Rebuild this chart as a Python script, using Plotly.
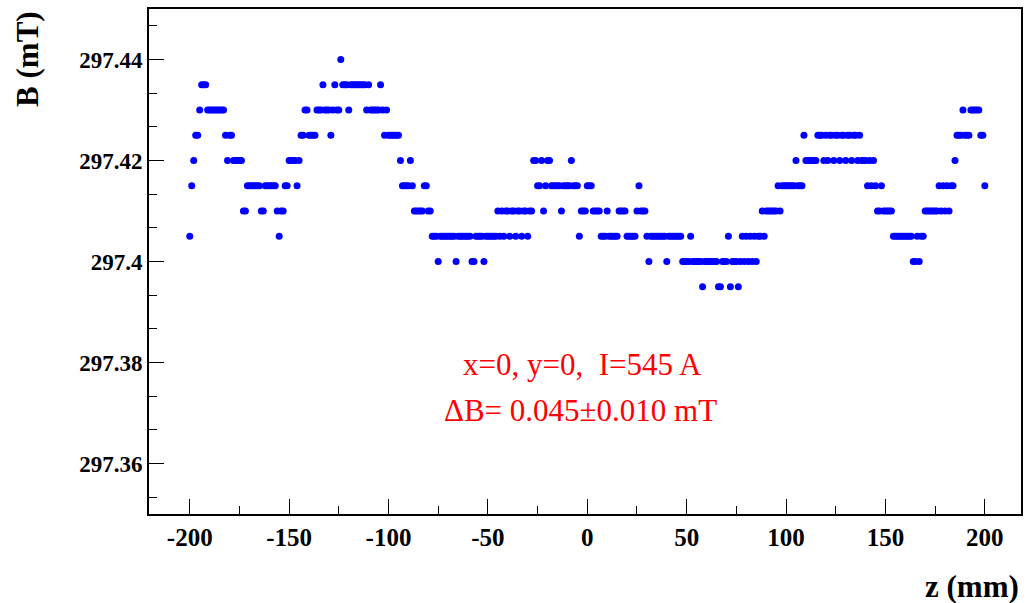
import plotly.graph_objects as go

# z positions (mm), 1 mm scan steps
z_mm = list(range(-200, 201))

B_mT = [
    297.405, 297.415, 297.420, 297.425, 297.425, 297.430, 297.435, 297.435, 297.435, 297.430,  # -200
    297.430, 297.430, 297.430, 297.430, 297.430, 297.430, 297.430, 297.430, 297.425, 297.420,  # -190
    297.425, 297.425, 297.420, 297.420, 297.420, 297.420, 297.420, 297.410, 297.410, 297.415,  # -180
    297.415, 297.415, 297.415, 297.415, 297.415, 297.415, 297.410, 297.410, 297.415, 297.415,  # -170
    297.415, 297.415, 297.415, 297.415, 297.410, 297.405, 297.410, 297.410, 297.415, 297.415,  # -160
    297.420, 297.420, 297.420, 297.420, 297.415, 297.420, 297.425, 297.425, 297.430, 297.430,  # -150
    297.425, 297.425, 297.425, 297.425, 297.430, 297.430, 297.430, 297.435, 297.430, 297.430,  # -140
    297.430, 297.425, 297.430, 297.435, 297.430, 297.430, 297.440, 297.435, 297.435, 297.435,  # -130
    297.430, 297.435, 297.435, 297.435, 297.435, 297.435, 297.435, 297.435, 297.435, 297.430,  # -120
    297.435, 297.430, 297.430, 297.430, 297.430, 297.430, 297.435, 297.430, 297.425, 297.430,  # -110
    297.425, 297.425, 297.425, 297.425, 297.425, 297.425, 297.420, 297.415, 297.415, 297.415,  # -100
    297.415, 297.420, 297.415, 297.410, 297.410, 297.410, 297.410, 297.410, 297.415, 297.415,  # -90
    297.410, 297.410, 297.405, 297.405, 297.405, 297.400, 297.405, 297.405, 297.405, 297.405,  # -80
    297.405, 297.405, 297.405, 297.405, 297.400, 297.405, 297.405, 297.405, 297.405, 297.405,  # -70
    297.405, 297.405, 297.400, 297.400, 297.405, 297.405, 297.405, 297.405, 297.400, 297.405,  # -60
    297.405, 297.405, 297.405, 297.405, 297.405, 297.410, 297.405, 297.410, 297.405, 297.410,  # -50
    297.410, 297.405, 297.410, 297.410, 297.405, 297.410, 297.410, 297.405, 297.410, 297.410,  # -40
    297.405, 297.410, 297.410, 297.420, 297.420, 297.415, 297.415, 297.420, 297.410, 297.415,  # -30
    297.420, 297.420, 297.415, 297.415, 297.415, 297.415, 297.415, 297.410, 297.415, 297.415,  # -20
    297.415, 297.415, 297.420, 297.415, 297.415, 297.415, 297.405, 297.410, 297.410, 297.410,  # -10
    297.415, 297.415, 297.415, 297.410, 297.410, 297.410, 297.410, 297.405, 297.405, 297.405,  # 0
    297.410, 297.405, 297.405, 297.405, 297.405, 297.405, 297.410, 297.410, 297.410, 297.410,  # 10
    297.405, 297.405, 297.405, 297.405, 297.405, 297.410, 297.415, 297.410, 297.410, 297.410,  # 20
    297.405, 297.400, 297.405, 297.405, 297.405, 297.405, 297.405, 297.405, 297.405, 297.405,  # 30
    297.400, 297.405, 297.405, 297.405, 297.405, 297.405, 297.405, 297.405, 297.400, 297.400,  # 40
    297.400, 297.400, 297.405, 297.400, 297.400, 297.400, 297.400, 297.400, 297.395, 297.400,  # 50
    297.400, 297.400, 297.400, 297.400, 297.400, 297.400, 297.395, 297.395, 297.400, 297.400,  # 60
    297.400, 297.405, 297.395, 297.400, 297.400, 297.400, 297.395, 297.400, 297.405, 297.400,  # 70
    297.405, 297.400, 297.405, 297.400, 297.405, 297.400, 297.405, 297.405, 297.410, 297.405,  # 80
    297.410, 297.410, 297.410, 297.410, 297.410, 297.410, 297.415, 297.410, 297.415, 297.415,  # 90
    297.415, 297.415, 297.415, 297.415, 297.415, 297.420, 297.415, 297.415, 297.415, 297.425,  # 100
    297.420, 297.420, 297.420, 297.420, 297.420, 297.420, 297.425, 297.425, 297.425, 297.420,  # 110
    297.425, 297.420, 297.425, 297.425, 297.420, 297.425, 297.425, 297.420, 297.425, 297.425,  # 120
    297.420, 297.425, 297.425, 297.420, 297.425, 297.425, 297.420, 297.425, 297.420, 297.420,  # 130
    297.420, 297.415, 297.420, 297.415, 297.420, 297.415, 297.410, 297.410, 297.415, 297.410,  # 140
    297.410, 297.410, 297.410, 297.410, 297.405, 297.405, 297.405, 297.405, 297.405, 297.405,  # 150
    297.405, 297.405, 297.405, 297.405, 297.400, 297.400, 297.405, 297.400, 297.405, 297.405,  # 160
    297.410, 297.410, 297.410, 297.410, 297.410, 297.410, 297.410, 297.415, 297.410, 297.415,  # 170
    297.410, 297.415, 297.410, 297.415, 297.415, 297.420, 297.425, 297.425, 297.425, 297.430,  # 180
    297.425, 297.425, 297.425, 297.430, 297.430, 297.430, 297.430, 297.430, 297.425, 297.425,  # 190
    297.415,                                                                                    # 200
]

x_tick_vals = [-200, -150, -100, -50, 0, 50, 100, 150, 200]
x_tick_text = ["-200", "-150", "-100", "-50", "0", "50", "100", "150", "200"]
y_tick_vals = [297.36, 297.38, 297.40, 297.42, 297.44]
y_tick_text = ["297.36", "297.38", "297.4", "297.42", "297.44"]

label_line1 = "x=0, y=0,\u00a0\u00a0I=545 A"
label_line2 = "\u0394B= 0.045\u00b10.010 mT"

FONT = "Liberation Serif, Times New Roman, serif"

fig = go.Figure()
fig.add_trace(go.Scatter(
    x=z_mm, y=B_mT, mode="markers",
    marker=dict(size=7, color="#0000ff", line=dict(width=0)),
    showlegend=False, hoverinfo="x+y",
))

axis_common = dict(
    showgrid=False, zeroline=False, showline=True, linecolor="black",
    linewidth=2, mirror=True, ticks="inside", tickcolor="black",
    tickwidth=1,
)

fig.update_xaxes(
    range=[-220.5, 218.2], tickmode="array", tickvals=x_tick_vals,
    ticktext=x_tick_text, ticklen=15,
    tickfont=dict(family=FONT, size=25, color="black", weight="bold"),
    minor=dict(tickmode="linear", tick0=-200, dtick=25, ticklen=8,
               ticks="inside", tickcolor="black", tickwidth=1),
    **axis_common,
)
fig.update_yaxes(
    range=[297.35, 297.45], tickmode="array", tickvals=y_tick_vals,
    ticktext=y_tick_text, ticklen=15,
    tickfont=dict(family=FONT, size=23, color="black", weight="bold"),
    minor=dict(tickmode="linear", tick0=297.36, dtick=0.02 / 3, ticklen=8,
               ticks="inside", tickcolor="black", tickwidth=1),
    **axis_common,
)

fig.add_annotation(x=-2.3, y=297.3796, xref="x", yref="y", text=label_line1,
                   showarrow=False, font=dict(family=FONT, size=31, color="#ff0000"))
fig.add_annotation(x=-3.2, y=297.3705, xref="x", yref="y", text=label_line2,
                   showarrow=False, font=dict(family=FONT, size=31, color="#ff0000"))

fig.add_annotation(x=-0.14, y=1.0, xref="paper", yref="paper", text="B (mT)",
                   textangle=-90, xanchor="center", yanchor="top", showarrow=False,
                   font=dict(family=FONT, size=31, color="black", weight="bold"))
fig.add_annotation(x=1.0, y=-0.1426, xref="paper", yref="paper", text="z (mm)",
                   xanchor="right", yanchor="middle", showarrow=False,
                   font=dict(family=FONT, size=31, color="black", weight="bold"))

fig.update_layout(
    width=1027, height=603,
    margin=dict(l=149, r=4, t=9, b=89),
    paper_bgcolor="white", plot_bgcolor="white",
)

fig.write_html("out.html")
